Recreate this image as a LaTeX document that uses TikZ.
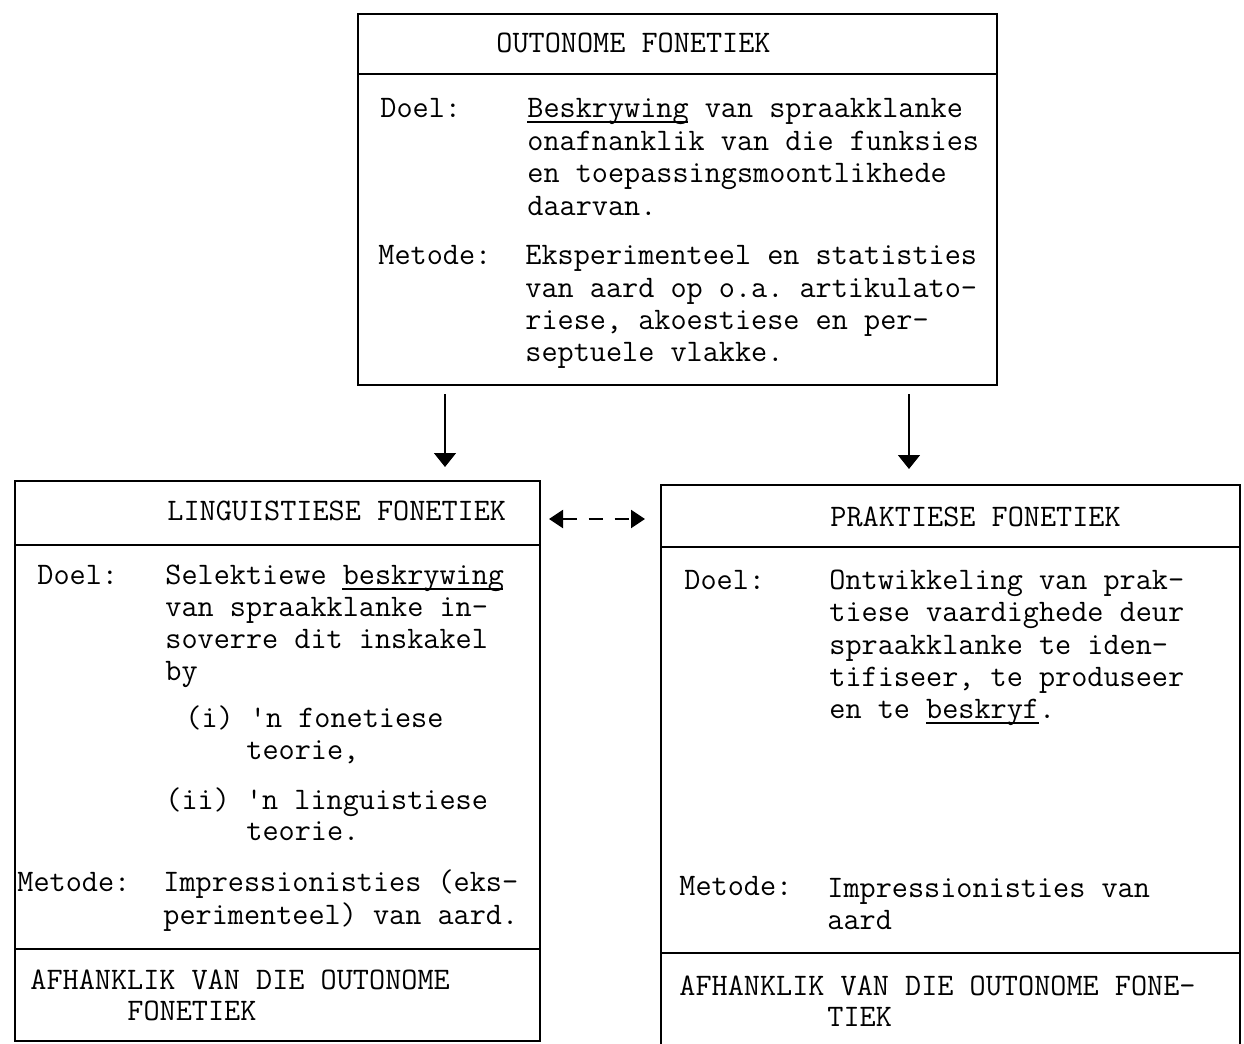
\documentclass[tikz,border=0pt]{standalone}
\usepackage{fontspec}
\setmonofont{Latin Modern Mono}
\usetikzlibrary{arrows.meta}
\begin{document}
\begin{tikzpicture}[x=0.5pt,y=-0.5pt,
  box/.style={draw,line width=1pt,rectangle,inner sep=0pt},
  txt/.style={font=\ttfamily\fontsize{15.66}{18}\selectfont,inner sep=0pt,anchor=base west},
  rule/.style={line width=1pt},
  uline/.style={line width=0.8pt},
  arr/.style={line width=0.8pt,-{Triangle[length=7pt,width=11pt]}},
  darr/.style={line width=1pt,dash pattern=on 7pt off 6pt,{Triangle[length=7pt,width=9pt]}-{Triangle[length=7pt,width=9pt]}}
]
\useasboundingbox (0,0) rectangle (1244,1044);
\clip (0,0) rectangle (1244,1044);

% ---------- top box ----------
\node[box,minimum width=319.5pt,minimum height=185.5pt] (top) at (677.5,199.5) {};
\draw[rule] (top.west |- 0,74) -- (top.east |- 0,74);
\node[txt] (t0) at (496,53) {OUTONOME FONETIEK};
\node[txt] (tdl) at (380,117) {Doel:};
\node[txt] (t1) at (527,117) {Beskrywing van spraakklanke};
\node[txt] (t2) at (527,150) {onafnanklik van die funksies};
\node[txt] (t3) at (527,182) {en toepassingsmoontlikhede};
\node[txt] (t4) at (527,215) {daarvan.};
\node[txt] (tml) at (378,264) {Metode:};
\node[txt] (t5) at (525,264) {Eksperimenteel en statisties};
\node[txt] (t6) at (525,297) {van aard op o.a. artikulato-};
\node[txt] (t7) at (525,329) {riese, akoestiese en per-};
\node[txt] (t8) at (525,361) {septuele vlakke.};
\draw[uline] (t1.base west) ++(0,5) -- ++(161,0);

% ---------- left box ----------
\node[box,minimum width=262.5pt,minimum height=280pt] (lb) at (277.5,761) {};
\draw[rule] (lb.west |- 0,545) -- (lb.east |- 0,545);
\draw[rule] (lb.west |- 0,949) -- (lb.east |- 0,949);
\node[txt] (l0) at (167,520) {LINGUISTIESE FONETIEK};
\node[txt] (ldl) at (37,584) {Doel:};
\node[txt] (l1) at (165,584) {Selektiewe beskrywing};
\node[txt] (l2) at (165,616) {van spraakklanke in-};
\node[txt] (l3) at (165,648) {soverre dit inskakel};
\node[txt] (l4) at (165,680) {by};
\node[txt] (l5) at (185,727) {(i) 'n fonetiese};
\node[txt] (l6) at (246,759) {teorie,};
\node[txt] (l7) at (165,809) {(ii) 'n linguistiese};
\node[txt] (l8) at (246,840) {teorie.};
\node[txt] (lml) at (17,891) {Metode:};
\node[txt] (l9) at (163,891) {Impressionisties (eks-};
\node[txt] (l10) at (163,924) {perimenteel) van aard.};
\node[txt] (l11) at (30,989) {AFHANKLIK VAN DIE OUTONOME};
\node[txt] (l12) at (127,1020) {FONETIEK};
\draw[uline] (l1.base west) ++(177,5) -- ++(161,0);

% ---------- right box ----------
\node[box,minimum width=289.5pt,minimum height=287.5pt] (rb) at (950.5,772.5) {};
\draw[rule] (rb.west |- 0,547) -- (rb.east |- 0,547);
\draw[rule] (rb.west |- 0,953) -- (rb.east |- 0,953);
\node[txt] (r0) at (830,526) {PRAKTIESE FONETIEK};
\node[txt] (rdl) at (684,589) {Doel:};
\node[txt] (r1) at (829,589) {Ontwikkeling van prak-};
\node[txt] (r2) at (829,621) {tiese vaardighede deur};
\node[txt] (r3) at (829,654) {spraakklanke te iden-};
\node[txt] (r4) at (829,686) {tifiseer, te produseer};
\node[txt] (r5) at (829,718) {en te beskryf.};
\node[txt] (rml) at (679,895) {Metode:};
\node[txt] (r6) at (827,897) {Impressionisties van};
\node[txt] (r7) at (827,929) {aard};
\node[txt] (r8) at (679,995) {AFHANKLIK VAN DIE OUTONOME FONE-};
\node[txt] (r9) at (827,1026) {TIEK};
\draw[uline] (r5.base west) ++(97,5) -- ++(113,0);

% ---------- connectors ----------
\draw[arr,shorten <=4pt,shorten >=6.5pt] (top.south -| 445,0) -- (lb.north -| 445,0);
\draw[arr,shorten <=4pt,shorten >=7.5pt] (top.south -| 909,0) -- (rb.north -| 909,0);
\draw[darr,shorten <=4pt,shorten >=7.5pt] (lb.east |- 0,519) -- (rb.west |- 0,519);
\end{tikzpicture}
\end{document}
